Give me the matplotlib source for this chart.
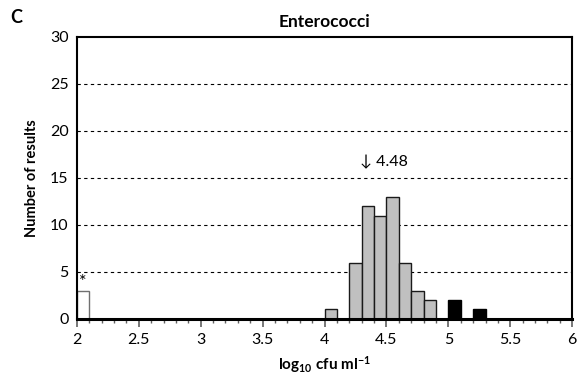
import numpy as np
import matplotlib
matplotlib.use('Agg')
import matplotlib.pyplot as plt
from matplotlib.ticker import MultipleLocator

plt.rcParams['font.family'] = ['Lato', 'DejaVu Sans']
plt.rcParams['mathtext.fontset'] = 'custom'
plt.rcParams['mathtext.rm'] = 'Lato:bold'
plt.rcParams['mathtext.default'] = 'rm'

# bin left edges (log10 cfu/ml) and counts
bin_width = 0.1
white_bins = [2.0]
white_counts = [3]
grey_bins = [4.0, 4.2, 4.3, 4.4, 4.5, 4.6, 4.7, 4.8]
grey_counts = [1, 6, 12, 11, 13, 6, 3, 2]
black_bins = [5.0, 5.2]
black_counts = [2, 1]
median_value = 4.48

fig = plt.figure(figsize=(5.78, 3.81), dpi=100)
ax = fig.add_axes([0.133, 0.163, 0.857, 0.740])

for y in [5, 10, 15, 20, 25]:
    ax.axhline(y, color='black', ls=(0, (3, 3)), lw=0.8, zorder=0)

ax.bar(white_bins, white_counts, width=bin_width, align='edge',
       color='white', edgecolor='#707070', lw=1, zorder=2)
ax.bar(grey_bins, grey_counts, width=bin_width, align='edge',
       color='#c0c0c0', edgecolor='#1a1a1a', lw=1, zorder=2)
ax.bar(black_bins, black_counts, width=bin_width, align='edge',
       color='black', edgecolor='black', lw=1, zorder=2)

ax.text(2.05, white_counts[0] + 0.1, '*', ha='center', va='bottom', fontsize=13)
ax.text(median_value, 16.7, '\u2193 ' + str(median_value), ha='center',
        va='center', fontsize=11.5)

ax.set_xlim(2, 6)
ax.set_ylim(0, 30)
ax.xaxis.set_major_locator(MultipleLocator(0.5))
ax.xaxis.set_minor_locator(MultipleLocator(0.1))
ax.set_xticks(np.arange(2, 6.01, 0.5))
ax.set_xticklabels(['2', '2.5', '3', '3.5', '4', '4.5', '5', '5.5', '6'])
ax.set_yticks(range(0, 31, 5))
ax.tick_params(axis='x', which='major', direction='out', length=6, width=1.2,
               color='#606060', labelsize=11.5, pad=4)
ax.tick_params(axis='x', which='minor', direction='out', length=3, width=1,
               color='#606060')
ax.tick_params(axis='y', which='both', length=0, labelsize=11.5, pad=6)

for side in ['left', 'right', 'top']:
    ax.spines[side].set_linewidth(1.5)
ax.spines['bottom'].set_linewidth(2.2)

ax.set_title('Enterococci', fontsize=12.5, fontweight='bold', pad=7)
ax.set_ylabel('Number of results', fontsize=10.5, fontweight='bold', labelpad=8)
ax.set_xlabel(r'log$_{10}$ cfu ml$^{-1}$', fontsize=11, fontweight='bold',
              labelpad=5)

fig.text(0.018, 0.955, 'C', fontsize=13, fontweight='bold', ha='left', va='center')

fig.savefig('out.png', dpi=100)
